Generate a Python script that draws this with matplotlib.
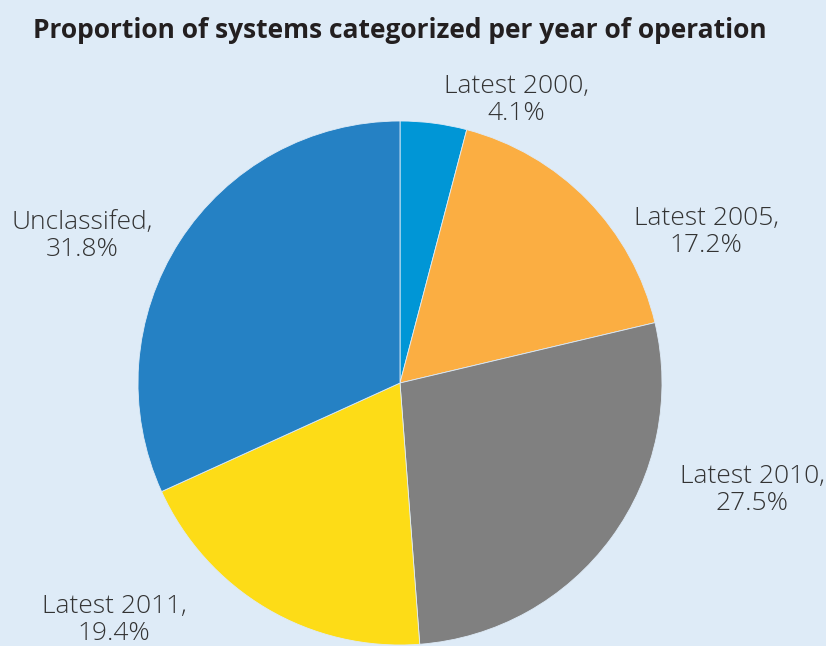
import matplotlib
matplotlib.use("Agg")
import matplotlib.pyplot as plt

# share of systems by year of operation
labels = ["Latest 2000", "Latest 2005", "Latest 2010", "Latest 2011", "Unclassifed"]
shares = [4.1, 17.2, 27.5, 19.4, 31.8]
colors = ["#0096D6", "#FBAE42", "#808080", "#FDDC17", "#2581C4"]

# label anchor points (pixels, origin bottom-left)
label_xy = [(516, 546), (706, 414), (752, 156), (114, 26), (82, 410)]

bg = "#DEEBF7"
W, H = 826, 646

fig = plt.figure(figsize=(W / 100, H / 100), dpi=100, facecolor=bg)
ax = fig.add_axes([0, 0, 1, 1])
ax.set_facecolor(bg)

ax.pie(shares, colors=colors, startangle=90, counterclock=False,
       center=(400, 263), radius=262, frame=True,
       wedgeprops=dict(edgecolor=bg, linewidth=0.6))
ax.set_xlim(0, W)
ax.set_ylim(0, H)
ax.set_aspect("equal")
ax.axis("off")

for lab, val, (x, y) in zip(labels, shares, label_xy):
    ax.text(x, y, f"{lab},\n{val}%", ha="center", va="center",
            fontsize=19, family="Open Sans", fontweight="light",
            color="#333333", linespacing=1.15)

fig.text(33 / W, 1 - 30 / H, "Proportion of systems categorized per year of operation",
         ha="left", va="center", fontsize=19, family="Open Sans",
         fontweight="bold", color="#231F20")

fig.savefig("out.png", dpi=100, facecolor=bg)
